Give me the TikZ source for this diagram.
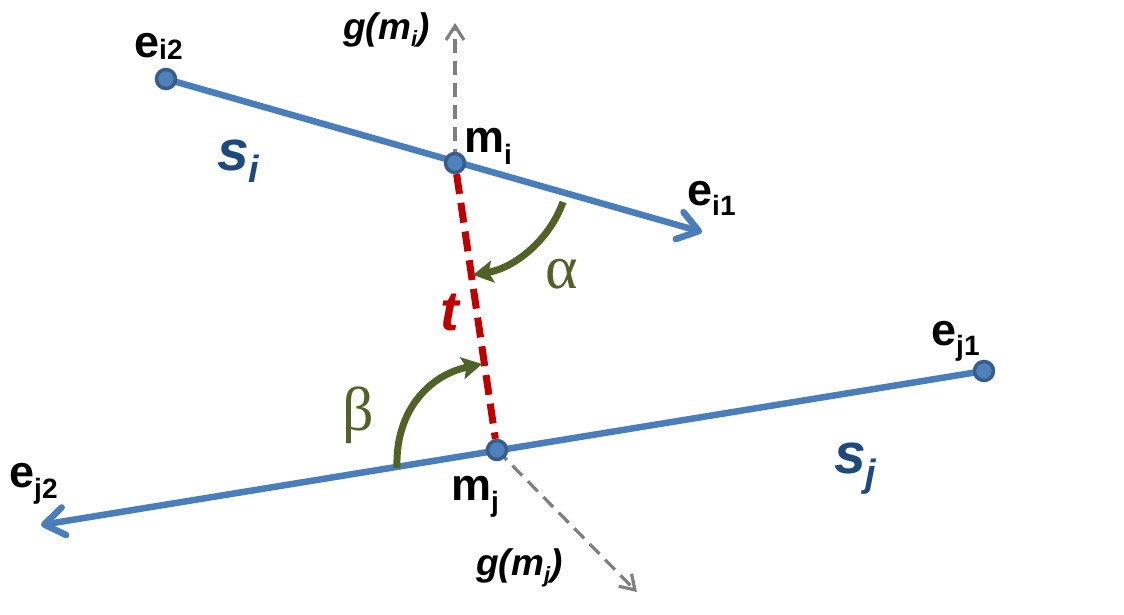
\documentclass[tikz,border=0pt]{standalone}
\usepackage{fontspec}
\setmainfont{Liberation Sans}
\newfontfamily\grserif{Liberation Serif}
\usetikzlibrary{arrows.meta,backgrounds}
\definecolor{segblue}{HTML}{4A7EBB}
\definecolor{dotfill}{HTML}{4F81BD}
\definecolor{dotedge}{HTML}{385D8A}
\definecolor{sblue}{HTML}{1F497D}
\definecolor{tred}{HTML}{C00000}
\definecolor{agreen}{HTML}{4F6228}
\definecolor{ggray}{HTML}{7F7F7F}
\newcommand\elab[3]{{\fontsize{45}{45}\selectfont\bfseries #1}\raisebox{-#3pt}{\fontsize{28}{28}\selectfont\bfseries #2}}
\newcommand\glab[1]{{\bfseries\itshape\fontsize{37}{37}\selectfont g(m\raisebox{-7pt}{\fontsize{22}{22}\selectfont #1})}}
\newcommand\slab[1]{{\color{sblue}\bfseries\itshape\fontsize{57}{57}\selectfont s\raisebox{-13pt}{\fontsize{38}{38}\selectfont #1}}}
\begin{document}
\begin{tikzpicture}[x=1pt,y=-1pt,
  dot/.style={circle, fill=dotfill, draw=dotedge, line width=3.5pt, minimum size=19pt, inner sep=0pt},
  seg/.style={draw=segblue, line width=6.5pt, line cap=round, -{Straight Barb[round,length=20pt,width=28pt]}},
  gline/.style={draw=ggray, line width=3.2pt, dash pattern=on 14pt off 8pt, -{Straight Barb[length=14pt,width=18pt]}},
  tline/.style={draw=tred, line width=7pt, dash pattern=on 20pt off 9pt},
  angarc/.style={draw=agreen, line width=7pt, -{Stealth[length=20pt,width=22pt,inset=4pt]}},
  lab/.style={inner sep=0pt, anchor=base west}]
\useasboundingbox (0,0) rectangle (1124,615);
% points
\node[dot] (ei2) at (166,79) {};
\node[dot] (mi) at (455,163) {};
\node[dot] (mj) at (497,450) {};
\node[dot] (ej1) at (984,371) {};
\coordinate (ei1) at (702,232);
\coordinate (ej2) at (41,525);
\coordinate (gi) at (455,23);
\coordinate (gj) at (637,592);
\coordinate (a0) at (563,202);
\coordinate (a1) at (473,275);
\coordinate (b0) at (397,468);
\coordinate (b1) at (482,364);
\begin{scope}[on background layer]
  \draw[gline] (mi.center) -- (gi);
  \draw[gline] (mj.center) -- (gj);
  \draw[seg] (ei2.center) -- (ei1);
  \draw[seg] (ej1.center) -- (ej2);
\end{scope}
\draw[tline] (mi) -- (mj);
\draw[angarc] (a0) .. controls (549,241) and (514,268) .. (a1);
\draw[angarc] (b0) .. controls (395,410) and (430,375) .. (b1);
% labels
\node[lab] (lei2) at (134,58) {\elab{e}{i2}{2}};
\node[lab] (lei1) at (687,205) {\elab{e}{i1}{10}};
\node[lab] (lej1) at (931,345) {\elab{e}{j1}{10}};
\node[lab] (lej2) at (9,487) {\elab{e}{j2}{11}};
\node[lab] (lmi) at (464,153) {\elab{m}{i}{12}};
\node[lab] (lmj) at (451,500) {\elab{m}{j}{11}};
\node[lab] (lgi) at (343,40) {\glab{i}};
\node[lab] (lgj) at (476,575) {\glab{j}};
\node[lab] (lsi) at (217,170) {\slab{i}};
\node[lab] (lsj) at (834,473) {\slab{j}};
\node[lab] (lt) at (440,330) {\color{tred}\bfseries\itshape\fontsize{56}{56}\selectfont t};
\node[lab] (lal) at (545,288) {\color{agreen}\grserif\fontsize{62}{62}\selectfont α};
\node[lab] (lbe) at (342,430) {\color{agreen}\grserif\fontsize{62}{62}\selectfont β};
\end{tikzpicture}
\end{document}
